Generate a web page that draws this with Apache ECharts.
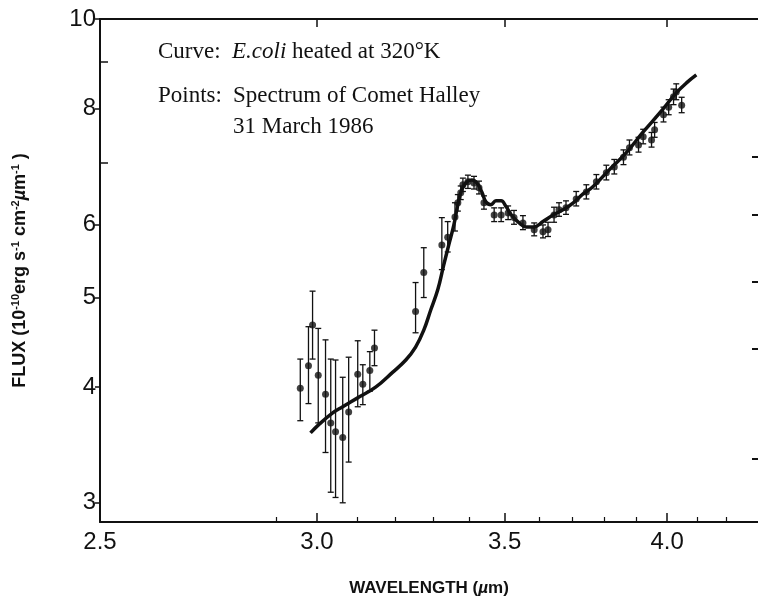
<!DOCTYPE html>
<html>
<head>
<meta charset="utf-8">
<script src="https://cdn.jsdelivr.net/npm/echarts@6/dist/echarts.min.js"></script>
<style>html,body{margin:0;padding:0;background:#fff;}#c{width:758px;height:607px;}</style>
</head>
<body>
<div id="c"></div>
<script>
// E. coli curve (wavelength µm, flux)
const curveX = [2.984,3.003,3.038,3.064,3.104,3.148,3.192,3.227,3.253,3.275,3.294,3.313,3.329,3.343,3.357,3.368,3.379,3.393,3.407,3.421,3.435,3.447,3.461,3.475,3.490,3.504,3.521,3.542,3.562,3.586,3.612,3.642,3.672,3.703,3.733,3.764,3.814,3.868,3.922,3.975,4.030,4.064,4.097];
const curveY = [3.57,3.64,3.75,3.81,3.90,4.00,4.15,4.28,4.42,4.61,4.85,5.10,5.42,5.70,5.99,6.30,6.54,6.67,6.70,6.65,6.50,6.34,6.30,6.36,6.36,6.27,6.13,6.02,5.96,5.96,6.04,6.14,6.22,6.33,6.47,6.59,6.87,7.17,7.55,7.91,8.32,8.53,8.70];
// Comet Halley spectrum points with error bars
const ptX = [2.959,2.979,2.989,3.003,3.021,3.034,3.046,3.064,3.079,3.102,3.115,3.133,3.145,3.253,3.275,3.324,3.340,3.360,3.368,3.376,3.382,3.396,3.413,3.427,3.441,3.470,3.490,3.510,3.527,3.553,3.586,3.612,3.627,3.645,3.660,3.681,3.712,3.743,3.774,3.805,3.830,3.859,3.878,3.907,3.922,3.949,3.959,3.988,4.005,4.021,4.030,4.048];
const ptY = [3.99,4.22,4.67,4.12,3.93,3.66,3.58,3.53,3.76,4.13,4.03,4.17,4.41,4.83,5.32,5.70,5.81,6.11,6.33,6.49,6.62,6.67,6.65,6.57,6.33,6.14,6.14,6.17,6.10,6.02,5.92,5.89,5.92,6.14,6.22,6.25,6.39,6.50,6.67,6.82,6.92,7.09,7.26,7.31,7.46,7.40,7.59,7.88,8.03,8.24,8.34,8.07];
const ptLo = [3.68,3.84,4.29,3.66,3.40,3.08,3.04,3.00,3.32,3.81,3.83,3.96,4.22,4.58,5.00,5.36,5.60,5.90,6.20,6.38,6.51,6.56,6.55,6.47,6.23,6.04,6.04,6.07,6.00,5.92,5.83,5.80,5.82,6.03,6.12,6.15,6.28,6.39,6.55,6.70,6.80,6.96,7.13,7.18,7.33,7.27,7.45,7.74,7.88,8.08,8.18,7.92];
const ptHi = [4.29,4.65,5.08,4.63,4.50,4.29,4.28,4.10,4.31,4.49,4.23,4.37,4.61,5.19,5.66,6.10,6.04,6.33,6.46,6.60,6.73,6.78,6.76,6.68,6.44,6.25,6.25,6.28,6.21,6.13,6.02,5.99,6.03,6.26,6.33,6.36,6.51,6.62,6.79,6.95,7.05,7.22,7.40,7.45,7.60,7.54,7.73,8.03,8.18,8.40,8.51,8.23];
// Axis ticks
const xLabelTicks = [2.51, 3.0, 3.5, 4.0];
const xMajorTicks = [3.0, 3.5, 4.0];
const xMinorTicks = [2.9, 3.1, 3.2, 3.3, 3.4, 3.6, 3.7, 3.8, 3.9, 4.1, 4.2];
const yLabelTicks = [3, 4, 5, 6, 8, 10];
const yMinorTicks = [7, 9];
const yRightTicks = [3.35, 4.4, 5.2, 6.15, 7.1];

const X_MIN = 2.51, X_MAX = 4.31, Y_MIN = 2.86, Y_MAX = 10;
const ink = '#111';

const chart = echarts.init(document.getElementById('c'), null, {renderer: 'canvas'});

const baseX = {type: 'log', logBase: 10, min: X_MIN, max: X_MAX, splitLine: {show: false}, gridIndex: 0};
const baseY = {type: 'log', logBase: 10, min: Y_MIN, max: Y_MAX, splitLine: {show: false}, gridIndex: 0};
const serif = '23px "Liberation Serif"';

const option = {
  animation: false,
  backgroundColor: '#fff',
  grid: {left: 100, right: 0, top: 19, bottom: 85},
  xAxis: [
    Object.assign({}, baseX, {
      position: 'bottom',
      axisLine: {show: true, lineStyle: {color: ink, width: 2}},
      axisTick: {show: true, inside: true, length: 9, customValues: xMajorTicks, lineStyle: {color: ink, width: 1.5}},
      axisLabel: {show: true, customValues: xLabelTicks, formatter: v => Number(v).toFixed(1), color: ink, fontFamily: 'Liberation Sans', fontSize: 24, margin: 8},
      name: 'WAVELENGTH ({it|µ}m)', nameLocation: 'middle', nameGap: 58,
      nameTextStyle: {fontFamily: 'Liberation Sans', fontWeight: 'bold', fontSize: 17, color: ink,
        rich: {it: {fontFamily: 'Liberation Sans', fontStyle: 'italic', fontSize: 17, color: ink}}}
    }),
    Object.assign({}, baseX, {
      position: 'bottom',
      axisLine: {show: false},
      axisTick: {show: true, inside: true, length: 5, customValues: xMinorTicks, lineStyle: {color: ink, width: 1.2}},
      axisLabel: {show: false}
    }),
    Object.assign({}, baseX, {
      position: 'top',
      axisLine: {show: true, lineStyle: {color: ink, width: 2}},
      axisTick: {show: true, inside: true, length: 8, customValues: xMajorTicks, lineStyle: {color: ink, width: 1.5}},
      axisLabel: {show: false}
    })
  ],
  yAxis: [
    Object.assign({}, baseY, {
      position: 'left',
      axisLine: {show: true, lineStyle: {color: ink, width: 2}},
      axisTick: {show: true, inside: false, length: 5, customValues: yLabelTicks, lineStyle: {color: ink, width: 1.5}},
      axisLabel: {show: true, customValues: yLabelTicks, color: ink, fontFamily: 'Liberation Sans', fontSize: 24, margin: 4},
      name: 'FLUX (10{sup|-10}erg s{sup|-1} cm{sup|-2}{it|µ}m{sup|-1} )',
      nameLocation: 'middle', nameRotate: 90, nameGap: 70,
      nameTextStyle: {fontFamily: 'Liberation Sans', fontWeight: 'bold', fontSize: 18, color: ink,
        rich: {
          sup: {fontFamily: 'Liberation Sans', fontWeight: 'bold', fontSize: 11, verticalAlign: 'top', color: ink, padding: [0, 0, 9, 0]},
          it: {fontFamily: 'Liberation Sans', fontStyle: 'italic', fontSize: 18, color: ink}
        }}
    }),
    Object.assign({}, baseY, {
      position: 'left',
      axisLine: {show: false},
      axisTick: {show: true, inside: true, length: 8, customValues: yMinorTicks, lineStyle: {color: ink, width: 1.5}},
      axisLabel: {show: false}
    }),
    Object.assign({}, baseY, {
      position: 'right',
      axisLine: {show: false},
      axisTick: {show: true, inside: true, length: 6, customValues: yRightTicks, lineStyle: {color: ink, width: 2}},
      axisLabel: {show: false}
    })
  ],
  graphic: [
    {type: 'text', left: 158, top: 40, style: {text: 'Curve:', font: serif, fill: ink}},
    {type: 'text', left: 232, top: 40, style: {
      text: '{i|E.coli} heated at 320°K', font: serif, fill: ink,
      rich: {i: {fontFamily: 'Liberation Serif', fontStyle: 'italic', fontSize: 23, fill: ink}}
    }},
    {type: 'text', left: 158, top: 84, style: {text: 'Points:', font: serif, fill: ink}},
    {type: 'text', left: 233, top: 84, style: {text: 'Spectrum of Comet Halley', font: serif, fill: ink}},
    {type: 'text', left: 233, top: 115, style: {text: '31 March 1986', font: serif, fill: ink}}
  ],
  series: [
    {
      type: 'line', name: 'E. coli', xAxisIndex: 0, yAxisIndex: 0,
      data: curveX.map((x, i) => [x, curveY[i]]),
      smooth: 0.4, showSymbol: false,
      lineStyle: {color: ink, width: 3.5}, z: 3
    },
    {
      type: 'custom', name: 'errors', xAxisIndex: 0, yAxisIndex: 0,
      data: ptX.map((x, i) => [x, ptLo[i], ptHi[i]]),
      encode: {x: 0, y: [1, 2]},
      renderItem: function (params, api) {
        const x = api.value(0);
        const a = api.coord([x, api.value(1)]);
        const b = api.coord([x, api.value(2)]);
        const cw = 3;
        const st = {stroke: ink, lineWidth: 1.3};
        return {type: 'group', children: [
          {type: 'line', shape: {x1: a[0], y1: a[1], x2: b[0], y2: b[1]}, style: st},
          {type: 'line', shape: {x1: a[0] - cw, y1: a[1], x2: a[0] + cw, y2: a[1]}, style: st},
          {type: 'line', shape: {x1: b[0] - cw, y1: b[1], x2: b[0] + cw, y2: b[1]}, style: st}
        ]};
      }, z: 4
    },
    {
      type: 'scatter', name: 'Halley', xAxisIndex: 0, yAxisIndex: 0,
      data: ptX.map((x, i) => [x, ptY[i]]),
      symbol: 'circle', symbolSize: 7,
      itemStyle: {color: ink}, z: 5
    }
  ]
};
chart.setOption(option);
</script>
</body>
</html>
